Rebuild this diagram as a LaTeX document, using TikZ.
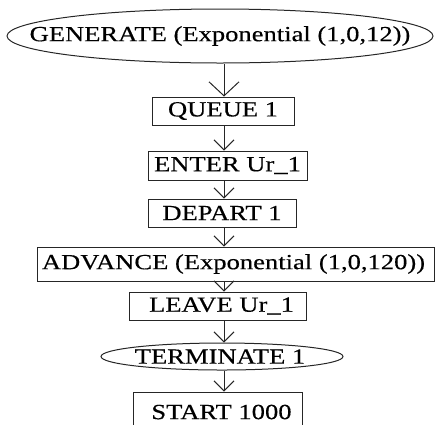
\documentclass[tikz,border=0pt]{standalone}
\usepackage{fontspec}
\setmainfont{Liberation Serif}[FakeStretch=1.23,FakeBold=0.4]
\usetikzlibrary{shapes.geometric,arrows.meta}
\begin{document}
\begin{tikzpicture}[x=1pt,y=-1pt,
  txt/.style={font=\fontsize{21.6pt}{24pt}\selectfont,text=black,inner sep=0pt},
  blk/.style={txt,draw=black!85,line width=1pt,rectangle},
  ell/.style={draw=black!85,line width=1pt,ellipse,inner sep=0pt},
  arr/.style={draw=black!85,line width=1pt,-{Straight Barb[length=10pt,width=20pt]}},
  bigarr/.style={draw=black!85,line width=1pt,-{Straight Barb[length=14pt,width=30pt]}}]
\useasboundingbox (0,0) rectangle (435,424);
\clip (0,0) rectangle (435,424);
\coordinate (ax) at (224,0);
\node[ell,minimum width=426pt,minimum height=54pt] (gen) at (220,36) {};
\node[txt] (gent) at (gen) {GENERATE (Exponential (1,0,12))};
\node[blk,minimum width=142pt,minimum height=28pt] (q) at (223,111) {QUEUE 1};
\node[blk,minimum width=159pt,minimum height=29pt] (ent) at (227.5,165.5) {ENTER Ur\_1};
\node[blk,minimum width=148pt,minimum height=28pt] (dep) at (222,213) {DEPART 1};
\node[blk,minimum width=397pt,minimum height=34pt] (adv) at (235.5,264) {ADVANCE (Exponential (1,0,120))\hspace*{4pt}};
\node[blk,minimum width=177pt,minimum height=28pt] (lea) at (217.5,306) {\hspace*{8pt}LEAVE Ur\_1};
\node[ell,minimum width=242pt,minimum height=27pt] (ter) at (222,356.5) {};
\node[txt] (tert) at ([xshift=-2pt]ter.center) {TERMINATE 1};
\node[blk,minimum width=169pt,minimum height=40pt] (sta) at (217.5,412) {\hspace*{8pt}START 1000};
\draw[bigarr] (gen.south -| ax) -- (q.north -| ax);
\draw[arr] (q.south -| ax) -- (ent.north -| ax);
\draw[arr] (ent.south -| ax) -- (dep.north -| ax);
\draw[arr] (dep.south -| ax) -- (adv.north -| ax);
\draw[arr] (adv.south -| ax) -- (lea.north -| ax);
\draw[arr] (lea.south -| ax) -- (ter.north -| ax);
\draw[arr] (ter.south -| ax) -- (sta.north -| ax);
\end{tikzpicture}
\end{document}
